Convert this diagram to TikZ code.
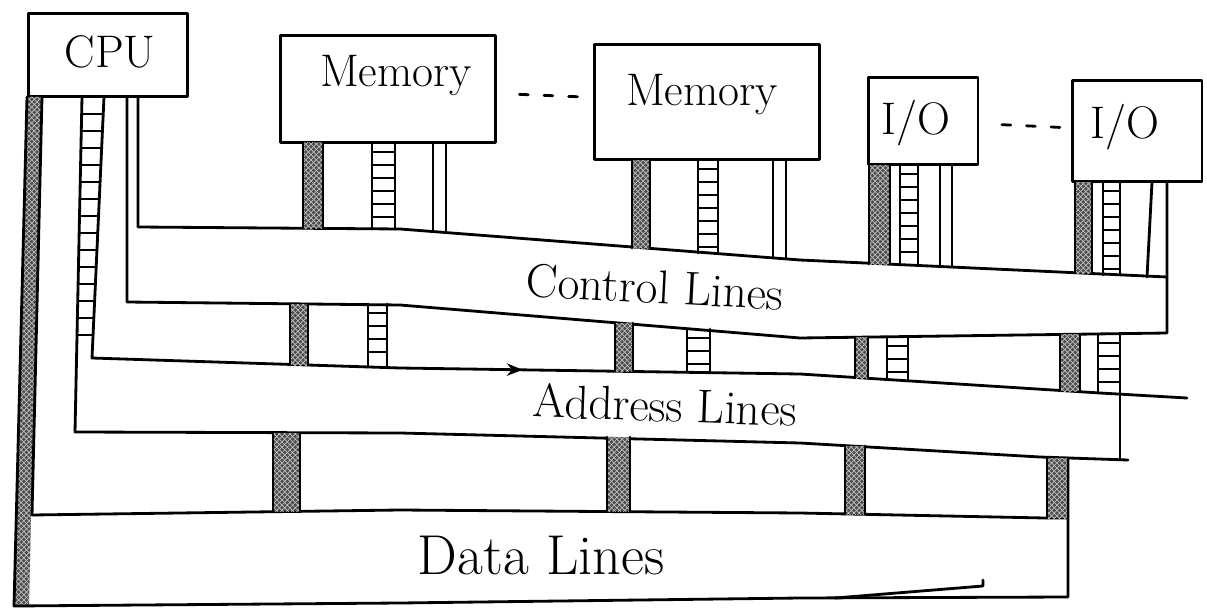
\documentclass[tikz,border=0pt]{standalone}
\usetikzlibrary{arrows.meta,patterns,decorations.markings}

\newcommand{\devfont}{\fontsize{26}{30}\selectfont}
\newcommand{\busfont}{\fontsize{27}{32}\selectfont}

% wire pieces, all in pixel coordinates: left x, right x, top y, bottom y
\newcommand{\datawire}[4]{%
  \fill[datafill] (#1,#3) rectangle (#2,#4);
  \draw[rail] (#1,#3) -- (#1,#4) (#2,#3) -- (#2,#4);}
\newcommand{\ctrlwire}[4]{%
  \draw[rail] (#1,#3) -- (#1,#4) (#2,#3) -- (#2,#4);}
\newcommand{\ladderwire}[4]{%
  \draw[rail] (#1,#3) -- (#1,#4) (#2,#3) -- (#2,#4);
  \pgfmathsetmacro{\rungA}{#3+9}\pgfmathsetmacro{\rungB}{#3+22}\pgfmathsetmacro{\rungC}{#4-4}
  \foreach \yy in {\rungA,\rungB,...,\rungC} \draw[rung] (#1,\yy) -- (#2,\yy);}

\begin{document}
\begin{tikzpicture}[
  x=0.02cm,y=-0.02cm,line cap=round,line join=round,
  device/.style={draw,line width=1.7pt,inner sep=0pt},
  devtext/.style={font=\devfont,inner sep=0pt},
  rail/.style={line width=1.6pt},
  rung/.style={line width=1.1pt},
  bus/.style={line width=1.6pt},
  datafill/.style={fill=black!70,postaction={pattern=crosshatch,pattern color=black!25}},
  buslabel/.style={font=\busfont,inner sep=0pt},
  dots/.style={line width=1.6pt,dash pattern=on 5pt off 9pt,shorten <=0.45cm,shorten >=0.15cm}
]
\useasboundingbox (0,0) rectangle (1207,608);

% devices
\node[device,minimum width=3.2cm,minimum height=1.68cm] (cpu) at (108,55) {};
\node[device,minimum width=4.3cm,minimum height=2.16cm] (mem1) at (388,89) {};
\node[device,minimum width=4.5cm,minimum height=2.3cm] (mem2) at (707,102) {};
\node[device,minimum width=2.2cm,minimum height=1.74cm] (io1) at (923,121) {};
\node[device,minimum width=2.6cm,minimum height=2.04cm] (io2) at (1137,131) {};
\node[devtext] (cputxt) at (110,52) {CPU};
\node[devtext] (mem1txt) at (396,76) {Memory};
\node[devtext] (mem2txt) at (702,95) {Memory};
\node[devtext] (io1txt) at (916,123) {I/O};
\node[devtext] (io2txt) at (1125,127) {I/O};
\draw[dots] (mem1) -- (mem2);
\draw[dots] (io1) -- (io2);

% CPU data wire, runs down into the data band
\fill[datafill] (27,97) -- (42,97) -- (31,515) -- (29,606) -- (14,606) -- cycle;
\draw[rail] (27,97) -- (14,606);
\draw[rail] (42,97) -- (32,515);

% CPU address ladder and the address band
\draw[bus,postaction={decorate},decoration={markings,mark=at position 0.51 with {\arrow{Stealth[length=9pt,width=7pt]}}}]
  (104,97) -- (92,358) -- (400,368) -- (800,374) -- (1100,393) -- (1187,398);
\draw[bus] (82,97) -- (75,432) -- (400,433) -- (800,443) -- (1040,457) -- (1128,460);
\foreach \yy in {114,131,...,345}
  \draw[rung] ({82-7*(\yy-97)/335},\yy) -- ({104-12*(\yy-97)/261},\yy);

% CPU control wire and the control band
\draw[bus] (138,97) -- (138,227) -- (400,229) -- (800,260) -- (1167,277);
\draw[bus] (127,97) -- (127,302) -- (400,305) -- (800,338) -- (1167,333) -- (1167,182);

% data band
\draw[bus] (32,515) -- (400,510) -- (800,513) -- (1045,518) -- (1068,518);
\draw[bus] (14,606) -- (400,603) -- (800,598) -- (1068,597) -- (1068,458);
\draw[bus] (835,598) -- (983,586) -- (983,580);

% Memory 1
\datawire{303}{323}{143}{228} \ladderwire{372}{395}{143}{229} \ctrlwire{433}{446}{143}{231}
\datawire{290}{308}{304}{365} \ladderwire{368}{387}{304}{367}
\datawire{273}{300}{433}{511}

% Memory 2
\datawire{632}{650}{160}{248} \ladderwire{698}{718}{160}{253} \ctrlwire{773}{786}{160}{258}
\datawire{615}{633}{323}{371} \ladderwire{687}{710}{329}{372}
\datawire{607}{630}{437}{511}

% I/O 1
\datawire{869}{890}{165}{264} \ladderwire{900}{918}{165}{265} \ctrlwire{940}{952}{165}{267}
\datawire{855}{868}{337}{378} \ladderwire{887}{908}{337}{380}
\datawire{845}{865}{446}{514}

% I/O 2
\datawire{1075}{1092}{182}{273} \ladderwire{1103}{1120}{182}{275}
\draw[rail] (1152,182) -- (1147,277);
\datawire{1060}{1080}{334}{391} \ladderwire{1098}{1120}{334}{393}
\draw[rail] (1120,393) -- (1120,460);
\datawire{1047}{1068}{458}{518}

% band names
\node[buslabel,rotate=-3] (ctrllbl) at (655,287) {Control Lines};
\node[buslabel,rotate=-2] (addrlbl) at (665,405) {Address Lines};
\node[buslabel,font=\fontsize{32}{36}\selectfont] (datalbl) at (541,556) {Data Lines};
\end{tikzpicture}
\end{document}
